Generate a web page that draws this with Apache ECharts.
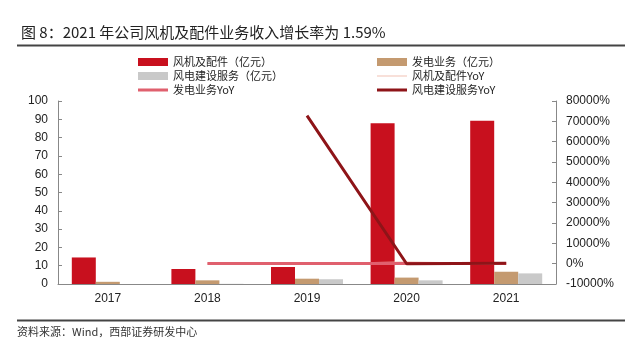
<!DOCTYPE html>
<html>
<head>
<meta charset="utf-8">
<script src="https://cdn.jsdelivr.net/npm/echarts@6/dist/echarts.min.js"></script>
<style>
html,body{margin:0;padding:0;background:#fff;}
#chart{width:640px;height:362px;}
</style>
</head>
<body>
<div id="chart"></div>
<script>
// ---- data ----
var categories = ['2017', '2018', '2019', '2020', '2021'];
var turbineRevenue = [14.5, 8.2, 9.3, 87.8, 89.2];      // 风机及配件（亿元）
var powerRevenue = [1.2, 2.0, 2.9, 3.5, 6.7];          // 发电业务（亿元）
var windServiceRevenue = [0, 0.1, 2.6, 2.0, 5.8];      // 风电建设服务（亿元）
var turbineYoY = [null, -44, 13, 844, 1.59];           // 风机及配件YoY (%)
var powerYoY = [null, 67, 45, 21, 91];                 // 发电业务YoY (%)
var windServiceYoY = [null, null, 72800, -23, 190];    // 风电建设服务YoY (%)
var leftTicks = {min: 0, max: 100, interval: 10};
var rightTicks = {min: -10000, max: 80000, interval: 10000};

var names = {
  turbine: '风机及配件（亿元）',
  power: '发电业务（亿元）',
  service: '风电建设服务（亿元）',
  turbineYoY: '风机及配件YoY',
  powerYoY: '发电业务YoY',
  serviceYoY: '风电建设服务YoY'
};

var cjk = '"Noto Sans CJK SC", "Liberation Sans", sans-serif';
var latin = '"Liberation Sans", Arial, sans-serif';

// legend line icons (bounding box 30x8, visible band in the middle)
var thickLineIcon = 'path://M0,0L30,0L30,0.001L0,0.001Z M0,2.5L30,2.5L30,5.5L0,5.5Z M0,7.999L30,7.999L30,8L0,8Z';
var thinLineIcon = 'path://M0,0L30,0L30,0.001L0,0.001Z M0,3.5L30,3.5L30,4.5L0,4.5Z M0,7.999L30,7.999L30,8L0,8Z';

var chart = echarts.init(document.getElementById('chart'), null, {renderer: 'canvas'});

var legendCommon = {
  orient: 'vertical',
  itemWidth: 30,
  itemHeight: 8,
  itemGap: 0,
  padding: 0,
  top: 55,
  textStyle: {fontSize: 11, lineHeight: 14, color: '#222', fontFamily: cjk},
  selectedMode: false
};

var option = {
  animation: false,
  backgroundColor: '#fff',
  title: {
    text: '图 8：2021 年公司风机及配件业务收入增长率为 1.59%',
    left: 16,
    top: 20,
    textStyle: {fontSize: 15, fontWeight: 'normal', color: '#222', fontFamily: cjk}
  },
  legend: [
    Object.assign({}, legendCommon, {
      left: 138,
      data: [
        {name: names.turbine, icon: 'rect'},
        {name: names.service, icon: 'rect'},
        {name: names.powerYoY, icon: thickLineIcon}
      ]
    }),
    Object.assign({}, legendCommon, {
      left: 377,
      data: [
        {name: names.power, icon: 'rect'},
        {name: names.turbineYoY, icon: thinLineIcon},
        {name: names.serviceYoY, icon: thickLineIcon}
      ]
    })
  ],
  grid: {left: 58, right: 84, top: 101, bottom: 78, containLabel: false},
  xAxis: {
    type: 'category',
    data: categories,
    boundaryGap: true,
    axisLine: {lineStyle: {color: '#888', width: 1}},
    axisTick: {inside: true, length: 4, lineStyle: {color: '#888'}},
    axisLabel: {fontSize: 12, color: '#222', fontFamily: latin, margin: 9}
  },
  yAxis: [
    {
      type: 'value',
      min: leftTicks.min, max: leftTicks.max, interval: leftTicks.interval,
      axisLine: {show: true, lineStyle: {color: '#888'}},
      axisTick: {show: true, inside: true, length: 4, lineStyle: {color: '#888'}},
      splitLine: {show: false},
      axisLabel: {fontSize: 12, color: '#222', fontFamily: latin, margin: 10}
    },
    {
      type: 'value',
      min: rightTicks.min, max: rightTicks.max, interval: rightTicks.interval,
      position: 'right',
      axisLine: {show: true, lineStyle: {color: '#888'}},
      axisTick: {show: true, inside: true, length: 4, lineStyle: {color: '#888'}},
      splitLine: {show: false},
      axisLabel: {fontSize: 12, color: '#222', fontFamily: latin, margin: 10,
                  formatter: function (v) { return String(v) + '%'; }}
    }
  ],
  series: [
    {name: names.turbine, type: 'bar', data: turbineRevenue, barWidth: 24, barGap: '0%',
     itemStyle: {color: '#C8101E'}, z: 2},
    {name: names.power, type: 'bar', data: powerRevenue, barWidth: 24, barGap: '0%',
     itemStyle: {color: '#C49A70'}, z: 2},
    {name: names.service, type: 'bar', data: windServiceRevenue, barWidth: 24, barGap: '0%',
     itemStyle: {color: '#C9C9C9'}, z: 2},
    {name: names.turbineYoY, type: 'line', yAxisIndex: 1, data: turbineYoY, symbol: 'none',
     lineStyle: {color: '#F2C2B4', width: 1}, itemStyle: {color: '#F2C2B4'}, z: 3},
    {name: names.powerYoY, type: 'line', yAxisIndex: 1, data: powerYoY, symbol: 'none',
     lineStyle: {color: '#E0606E', width: 3}, itemStyle: {color: '#E0606E'}, z: 4},
    {name: names.serviceYoY, type: 'line', yAxisIndex: 1, data: windServiceYoY, symbol: 'none',
     lineStyle: {color: '#8E1418', width: 3}, itemStyle: {color: '#8E1418'}, z: 5}
  ],
  graphic: [
    {type: 'line', shape: {x1: 17, y1: 45.5, x2: 625, y2: 45.5}, style: {stroke: '#444', lineWidth: 2}},
    {type: 'line', shape: {x1: 17, y1: 320.5, x2: 625, y2: 320.5}, style: {stroke: '#444', lineWidth: 2}},
    {type: 'text', left: 17, top: 326,
     style: {text: '资料来源：Wind，西部证券研发中心', fontSize: 11, fill: '#333', fontFamily: cjk}}
  ]
};

chart.setOption(option);
</script>
</body>
</html>
